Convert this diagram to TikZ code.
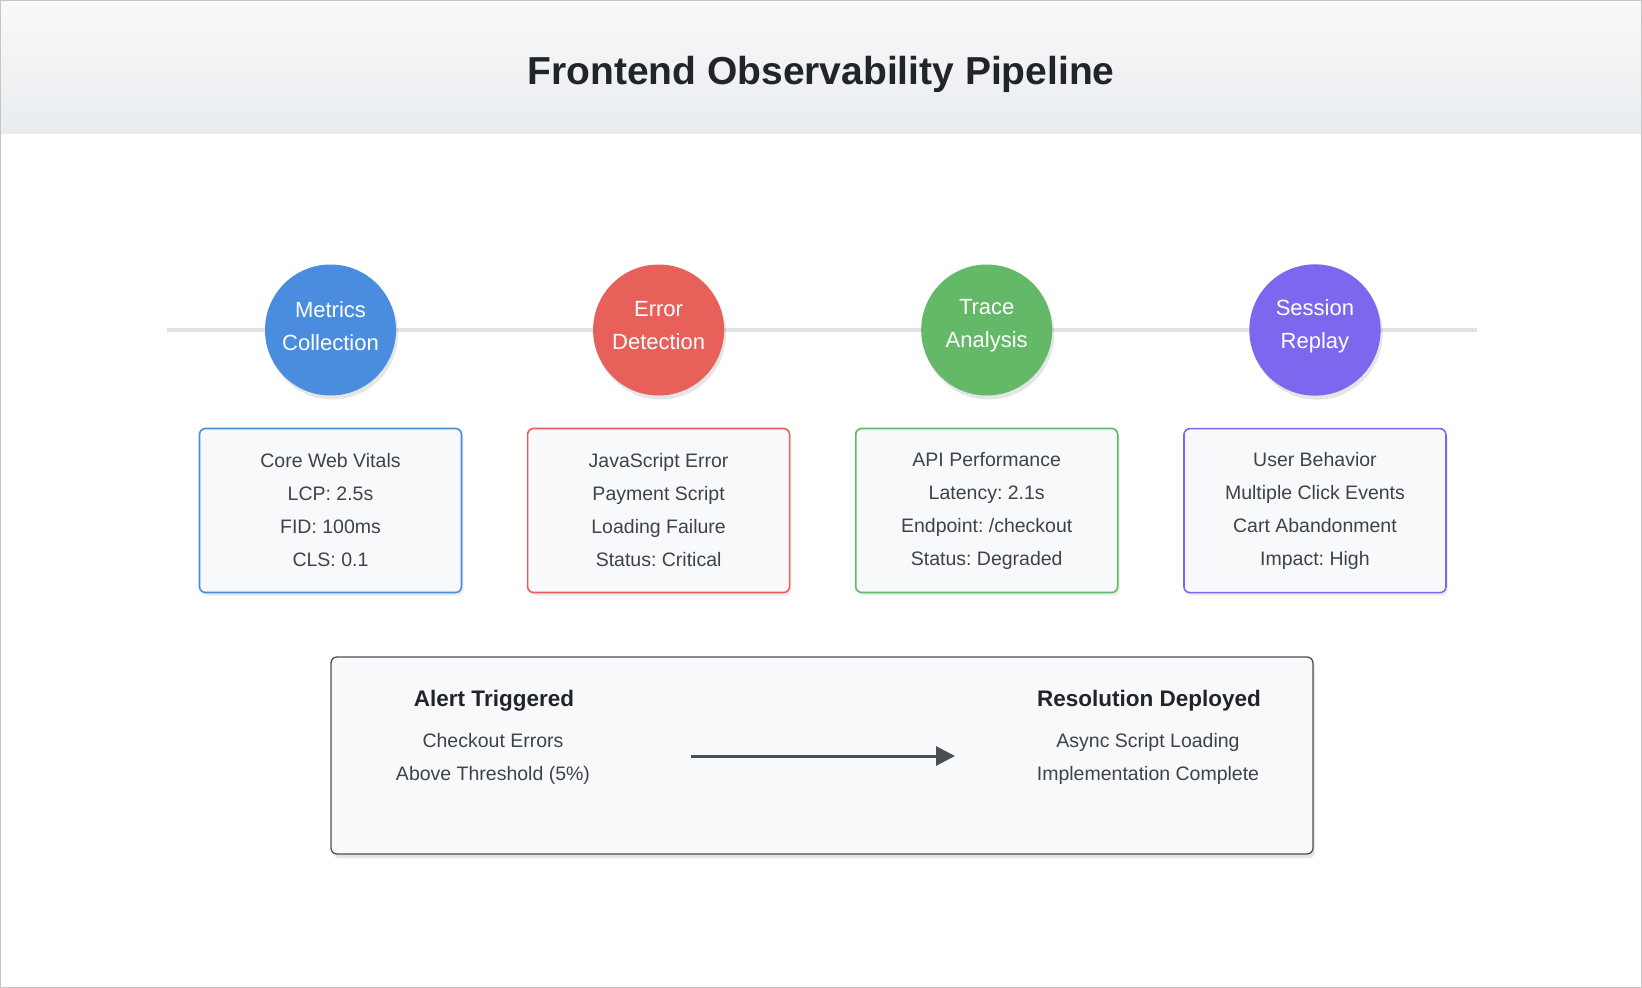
\documentclass[tikz,border=0pt]{standalone}
\usepackage{fontspec}
\setmainfont{Liberation Sans}
\frenchspacing
\usetikzlibrary{arrows.meta,positioning,shadows}

\definecolor{metricblue}{HTML}{4A8DDF}
\definecolor{errorred}{HTML}{E8605A}
\definecolor{tracegreen}{HTML}{64B968}
\definecolor{replaypurple}{HTML}{7B68EE}
\definecolor{panelfill}{HTML}{F8F9FA}
\definecolor{headtop}{HTML}{F8F9FA}
\definecolor{headbot}{HTML}{E9ECEF}
\definecolor{bodytext}{HTML}{3D4349}
\definecolor{darktext}{HTML}{212529}
\definecolor{railgray}{HTML}{DFE3E6}
\definecolor{arrowgray}{HTML}{4A4F55}
\definecolor{framegray}{HTML}{C4C6C8}

\newcommand{\stagelabel}[2]{\raisebox{4pt}[\height][\depth]{\parbox{120pt}{\centering #1\\#2}}}

\tikzset{
  stage/.style={circle,minimum size=131pt,inner sep=0pt,text=white,align=center,
    font=\fontsize{22}{33}\selectfont,
    drop shadow={opacity=0.2,shadow xshift=2pt,shadow yshift=-4pt}},
  detail/.style={draw,line width=1.6pt,rounded corners=6pt,fill=panelfill,
    minimum width=262pt,minimum height=164pt,align=center,text=bodytext,
    font=\fontsize{19.5}{33}\selectfont,
    drop shadow={opacity=0.15,shadow xshift=2pt,shadow yshift=-3pt}},
  outhead/.style={font=\fontsize{22.5}{27}\selectfont\bfseries,text=darktext},
  outnote/.style={align=center,text=bodytext,font=\fontsize{19.5}{33}\selectfont},
}

\begin{document}
\begin{tikzpicture}[x=1pt,y=-1pt,node distance=32pt and 196.7pt]
% page and header band
\useasboundingbox (0,0) rectangle (1642,988);
\fill[white] (0,0) rectangle (1642,988);
\shade[top color=headtop,bottom color=headbot] (0,0) rectangle (1642,133);
\draw[framegray,line width=2.5pt] (0,0) rectangle (1642,988);
\node[font=\fontsize{39}{44}\selectfont\bfseries,text=darktext] (title) at (821,74) {Frontend Observability Pipeline};

% rail behind the stages
\coordinate (railL) at (167,330);
\coordinate (railR) at (1477,330);
\draw[railgray,line width=3.5pt] (railL) -- (railR);

% stages
\node[stage,fill=metricblue] (metrics) at (330.5,330) {\stagelabel{Metrics}{Collection}};
\node[stage,fill=errorred,right=of metrics] (errors) {\stagelabel{Error}{Detection}};
\node[stage,fill=tracegreen,right=of errors] (trace) {\stagelabel{Trace}{Analysis}};
\node[stage,fill=replaypurple,right=of trace] (replay) {\stagelabel{Session}{Replay}};

% details
\node[detail,draw=metricblue,below=of metrics] (vitals) {Core Web Vitals\\LCP: 2.5s\\FID: 100ms\\CLS: 0.1};
\node[detail,draw=errorred,below=of errors] (jserror) {JavaScript Error\\Payment Script\\Loading Failure\\Status: Critical};
\node[detail,draw=tracegreen,below=of trace] (apiperf) {API Performance\\Latency: 2.1s\\Endpoint: /checkout\\Status: Degraded};
\node[detail,draw=replaypurple,below=of replay] (behavior) {User Behavior\\Multiple Click Events\\Cart Abandonment\\Impact: High};

% outcome panel
\node[draw=arrowgray,line width=1.3pt,rounded corners=6pt,fill=panelfill,
  minimum width=982pt,minimum height=197pt,
  drop shadow={opacity=0.2,shadow xshift=2pt,shadow yshift=-4pt}] (outcome) at (822,755.5) {};
\node[outhead] (alert) at (494,701) {Alert Triggered};
\node[outnote] (alertnote) at (493,758.5) {Checkout Errors\\Above Threshold (5\%)};
\node[outhead] (resolved) at (1149,701) {Resolution Deployed};
\node[outnote] (resolvednote) at (1148,758.5) {Async Script Loading\\Implementation Complete};

\coordinate (flowL) at (691,756);
\coordinate (flowR) at (955,756);
\draw[arrowgray,line width=3pt,-{Triangle[length=19pt,width=19pt]}] (flowL) -- (flowR);
\end{tikzpicture}
\end{document}
